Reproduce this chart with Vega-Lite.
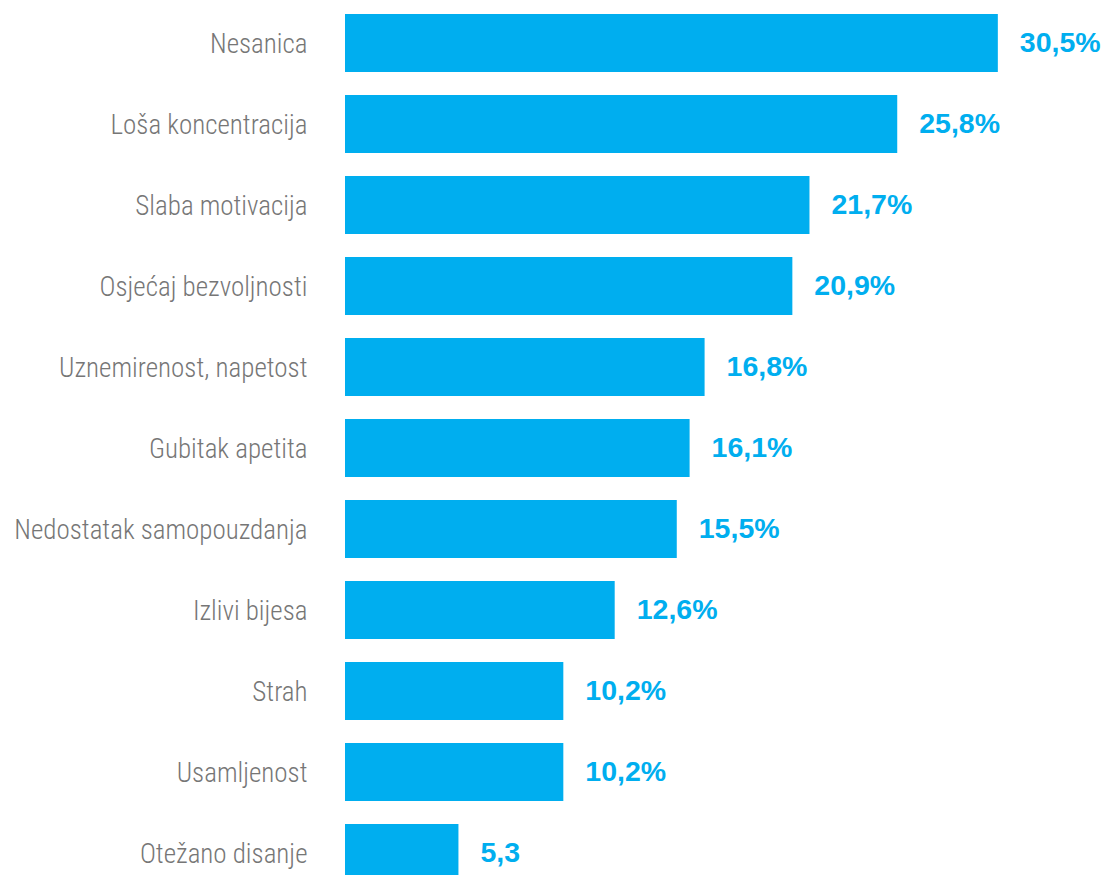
{
  "$schema": "https://vega.github.io/schema/vega-lite/v6.json",
  "autosize": {"type": "none"},
  "padding": {"left": 345, "top": 0, "right": 0, "bottom": 0},
  "width": 762,
  "height": 875,
  "background": "white",
  "config": {"view": {"stroke": null}},
  "data": {
    "values": [
      {"symptom": "Nesanica", "value": 30.5, "label": "30,5%"},
      {"symptom": "Loša koncentracija", "value": 25.8, "label": "25,8%"},
      {"symptom": "Slaba motivacija", "value": 21.7, "label": "21,7%"},
      {"symptom": "Osjećaj bezvoljnosti", "value": 20.9, "label": "20,9%"},
      {"symptom": "Uznemirenost, napetost", "value": 16.8, "label": "16,8%"},
      {"symptom": "Gubitak apetita", "value": 16.1, "label": "16,1%"},
      {"symptom": "Nedostatak samopouzdanja", "value": 15.5, "label": "15,5%"},
      {"symptom": "Izlivi bijesa", "value": 12.6, "label": "12,6%"},
      {"symptom": "Strah", "value": 10.2, "label": "10,2%"},
      {"symptom": "Usamljenost", "value": 10.2, "label": "10,2%"},
      {"symptom": "Otežano disanje", "value": 5.3, "label": "5,3"}
    ]
  },
  "encoding": {
    "y": {
      "field": "symptom",
      "type": "nominal",
      "sort": null,
      "scale": {"range": [14, 882], "paddingInner": 0.284, "paddingOuter": 0},
      "axis": {
        "title": null,
        "domain": false,
        "ticks": false,
        "labelPadding": 38,
        "labelFont": "'Roboto Condensed', 'DejaVu Sans Condensed', sans-serif",
        "labelFontSize": 27,
        "labelFontWeight": 300,
        "labelColor": "#767676",
        "labelLimit": 400,
        "labelOffset": 2
      }
    },
    "x": {
      "field": "value",
      "type": "quantitative",
      "scale": {"domain": [0, 35.6], "nice": false},
      "axis": null
    }
  },
  "layer": [
    {"mark": {"type": "bar", "color": "#00AEEF"}},
    {
      "mark": {
        "type": "text",
        "align": "left",
        "baseline": "middle",
        "dx": 22,
        "font": "Liberation Sans",
        "fontWeight": "bold",
        "fontSize": 28.5,
        "color": "#00AEEF"
      },
      "encoding": {"text": {"field": "label"}}
    }
  ]
}
